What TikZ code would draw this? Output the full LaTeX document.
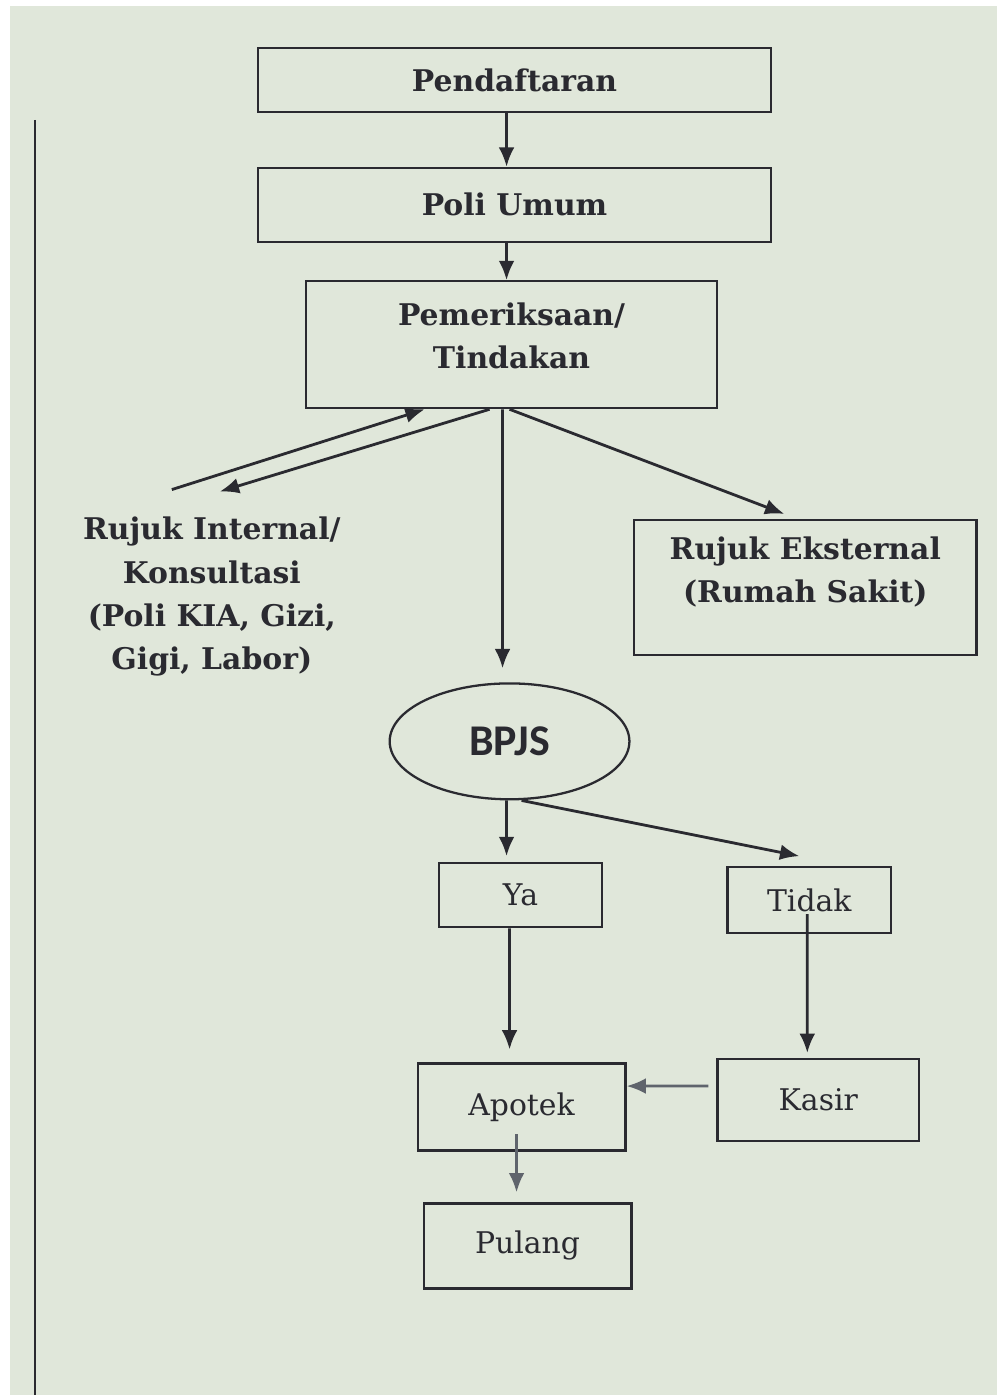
\documentclass[tikz,border=0pt]{standalone}
\usepackage{fontspec}
\setmainfont{DejaVu Serif}
\newfontfamily\bpjsfont{Carlito}
\usetikzlibrary{arrows.meta, shapes.geometric}

\definecolor{paper}{RGB}{224,231,218}
\definecolor{ink}{RGB}{42,42,48}
\definecolor{greyink}{RGB}{95,100,108}

\begin{document}
\begin{tikzpicture}[
        x=0.02cm, y=-0.02cm,
        procbox/.style={rectangle, draw=ink, line width=1.3pt, text=ink, align=center},
        bigtxt/.style={font=\fontsize{17}{24.5}\selectfont\bfseries},
        smalltxt/.style={font=\fontsize{17}{24.5}\selectfont},
        arrow/.style={-{Latex[length=11pt, width=9pt]}, line width=1.6pt, draw=ink},
        ]

        % Background and frame
        \fill[white] (0,0) rectangle (998,1396);
        \fill[paper] (10,6) rectangle (998,1396);
        \draw[ink, line width=1.4pt] (35,120) -- (35,1396);
        \useasboundingbox (0,0) rectangle (998,1396);

        % Nodes
        \node[procbox, bigtxt, minimum width=10.28cm, minimum height=1.28cm] (Pendaftaran) at (515,80) {Pendaftaran};
        \node[procbox, bigtxt, minimum width=10.28cm, minimum height=1.48cm] (PoliUmum) at (515,205) {Poli Umum};
        \node[procbox, bigtxt, minimum width=8.24cm, minimum height=2.54cm, text depth=0.35cm] (Pemeriksaan) at (512,345) {Pemeriksaan/\\Tindakan};
        \node[bigtxt, text=ink, align=center] (RujukInternal) at (212,597) {Rujuk Internal/\\Konsultasi\\(Poli KIA, Gizi,\\Gigi, Labor)};
        \node[procbox, bigtxt, minimum width=6.86cm, minimum height=2.7cm, text depth=0.7cm] (RujukEksternal) at (806,588) {Rujuk Eksternal\\(Rumah Sakit)};
        \node[ellipse, draw=ink, line width=1.3pt, text=ink, font=\bpjsfont\fontsize{25}{28}\selectfont\bfseries,
              minimum width=4.8cm, minimum height=2.32cm] (BPJS) at (510,742) {BPJS};
        \node[procbox, smalltxt, minimum width=3.26cm, minimum height=1.28cm] (Ya) at (521,896) {Ya};
        \node[procbox, smalltxt, minimum width=3.28cm, minimum height=1.32cm] (Tidak) at (810,901) {Tidak};
        \node[procbox, smalltxt, minimum width=4.16cm, minimum height=1.74cm] (Apotek) at (522,1108) {Apotek};
        \node[procbox, smalltxt, minimum width=4.04cm, minimum height=1.64cm] (Kasir) at (819,1101) {Kasir};
        \node[procbox, smalltxt, minimum width=4.16cm, minimum height=1.7cm] (Pulang) at (528,1247) {Pulang};

        % Free ends of the internal referral arrows
        \coordinate (IntOut) at (172,490);
        \coordinate (IntIn) at (220,492);

        % Arrows
        \draw[arrow] ([xshift=-0.16cm]Pendaftaran.south) -- ([xshift=-0.16cm]PoliUmum.north);
        \draw[arrow] ([xshift=-0.16cm]PoliUmum.south) -- ([xshift=-0.1cm]Pemeriksaan.north);
        \draw[arrow] (IntOut) -- ([xshift=-1.74cm]Pemeriksaan.south);
        \draw[arrow] ([xshift=-0.44cm]Pemeriksaan.south) -- (IntIn);
        \draw[arrow] ([xshift=-0.18cm]Pemeriksaan.south) -- ([xshift=-0.14cm, yshift=0.28cm]BPJS.north);
        \draw[arrow] ([xshift=-0.04cm]Pemeriksaan.south) -- ([xshift=-0.42cm, yshift=0.1cm]RujukEksternal.north);
        \draw[arrow] ([xshift=-0.06cm]BPJS.south) -- ([xshift=-0.28cm, yshift=0.12cm]Ya.north);
        \draw[arrow] ([xshift=0.24cm]BPJS.south) -- ([xshift=-0.2cm, yshift=0.2cm]Tidak.north);
        \draw[arrow] ([xshift=-0.22cm]Ya.south) -- ([xshift=-0.24cm, yshift=0.26cm]Apotek.north);
        \draw[arrow] ([xshift=-0.04cm, yshift=-0.28cm]Tidak.center) -- ([xshift=-0.22cm, yshift=0.1cm]Kasir.north);
        \draw[arrow, draw=greyink] ([xshift=-0.16cm, yshift=0.28cm]Kasir.west) -- ([yshift=0.42cm]Apotek.east);
        \draw[arrow, draw=greyink] ([xshift=-0.1cm, yshift=-0.54cm]Apotek.center) -- ([xshift=-0.22cm, yshift=0.2cm]Pulang.north);

    \end{tikzpicture}
\end{document}
